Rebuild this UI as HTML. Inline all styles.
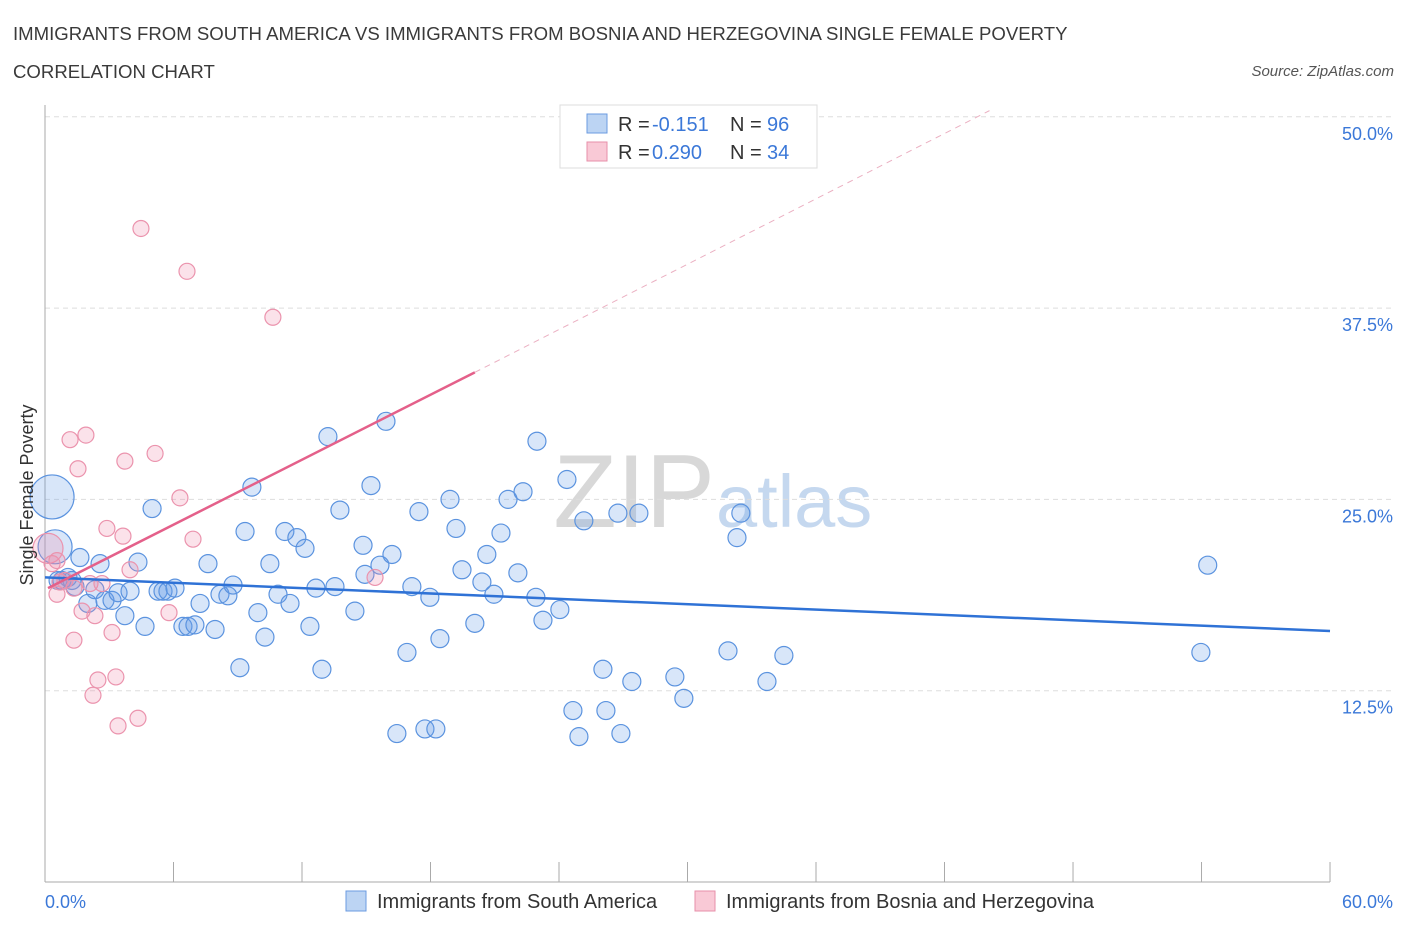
<!DOCTYPE html>
<html><head><meta charset="utf-8"><style>
body{margin:0;background:#fff;font-family:"Liberation Sans",sans-serif;}
svg text{font-family:"Liberation Sans",sans-serif;}
</style></head><body>
<svg id="c" width="1406" height="930">
<text x="13" y="40" font-size="18.6" fill="#3a3a3a">IMMIGRANTS FROM SOUTH AMERICA VS IMMIGRANTS FROM BOSNIA AND HERZEGOVINA SINGLE FEMALE POVERTY</text>
<text x="13" y="78" font-size="18.6" fill="#3a3a3a">CORRELATION CHART</text>
<text x="1394" y="76" font-size="15" fill="#555" font-style="italic" text-anchor="end">Source: ZipAtlas.com</text>
<text x="715" y="527" font-size="104" fill="#d8d8d8" text-anchor="end" font-family="Liberation Serif">ZIP</text>
<text x="716" y="527" font-size="74" fill="#c5d8ef">atlas</text>
<g id="grid"></g><g id="axes"></g><g id="pts"></g><g id="lines"></g>
<text x="33" y="495" font-size="18" fill="#333" transform="rotate(-90 33 495)" text-anchor="middle">Single Female Poverty</text>
<g>
<rect x="560" y="105" width="257" height="63" fill="#fff" stroke="#ddd"/>
<rect x="587" y="114" width="20" height="19" fill="#bcd4f3" stroke="#6b9be0"/>
<rect x="587" y="142" width="20" height="19" fill="#f9c9d6" stroke="#e78fa9"/>
<text y="131" font-size="20" fill="#333"><tspan x="618">R =</tspan><tspan x="652" fill="#3b78d8">-0.151</tspan><tspan x="730">N =</tspan><tspan x="767" fill="#3b78d8">96</tspan></text>
<text y="159" font-size="20" fill="#333"><tspan x="618">R =</tspan><tspan x="652" fill="#3b78d8">0.290</tspan><tspan x="730">N =</tspan><tspan x="767" fill="#3b78d8">34</tspan></text>
</g>
<rect x="346" y="891" width="20" height="20" fill="#bcd4f3" stroke="#6b9be0"/>
<text x="377" y="908" font-size="20" fill="#333">Immigrants from South America</text>
<rect x="695" y="891" width="20" height="20" fill="#f9c9d6" stroke="#e78fa9"/>
<text x="726" y="908" font-size="20" fill="#333">Immigrants from Bosnia and Herzegovina</text>
</svg>
<script>
const blueX=[0.33,0.47,0.61,0.79,1.07,1.26,1.4,1.63,2.0,2.33,2.57,2.8,3.13,3.41,3.73,3.97,4.34,4.67,5.0,5.28,5.51,5.74,6.07,6.44,6.68,7.0,7.24,7.61,7.94,8.17,8.54,8.78,9.1,9.34,9.66,9.94,10.27,10.5,10.88,11.2,11.44,11.76,12.14,12.37,12.65,12.93,13.21,13.54,13.77,14.47,14.85,14.94,15.22,15.64,15.92,16.2,16.43,16.9,17.13,17.46,17.74,17.97,18.25,18.44,18.91,19.19,19.47,20.07,20.4,20.63,20.96,21.29,21.62,22.08,22.32,22.92,22.97,23.25,24.04,24.37,24.65,24.93,25.16,26.05,26.19,26.75,26.89,27.4,27.73,29.41,29.83,31.89,32.31,32.49,33.71,34.5,53.97,54.29];
const blueY=[25.16,21.9,19.7,19.7,19.9,19.7,19.3,21.2,18.2,19.1,20.8,18.4,18.4,18.9,17.4,19.0,20.9,16.7,24.4,19.0,19.0,19.0,19.2,16.7,16.7,16.8,18.2,20.8,16.5,18.8,18.7,19.4,14.0,22.9,25.8,17.6,16.0,20.8,18.8,22.9,18.2,22.5,21.8,16.7,19.2,13.9,29.1,19.3,24.3,17.7,22.0,20.1,25.9,20.7,30.1,21.4,9.7,15.0,19.3,24.2,10.0,18.6,10.0,15.9,25.0,23.1,20.4,16.9,19.6,21.4,18.8,22.8,25.0,20.2,25.5,18.6,28.8,17.1,17.8,26.3,11.2,9.5,23.6,13.9,11.2,24.1,9.7,13.1,24.1,13.4,12.0,15.1,22.5,24.1,13.1,14.8,15.0,20.7];
const blueR=[22,17];
const pinkX=[0.14,0.33,0.56,0.7,0.93,1.17,1.35,1.54,1.73,1.91,2.1,2.33,2.47,2.24,2.66,2.89,3.13,3.31,3.41,4.34,3.64,3.73,3.97,4.48,5.14,5.79,6.3,6.63,6.91,10.64,15.41,1.35,0.56];
const pinkY=[21.8,20.8,18.8,19.6,19.7,28.9,19.2,27.0,17.7,29.2,19.5,17.4,13.2,12.2,19.5,23.1,16.3,13.4,10.2,10.7,22.6,27.5,20.4,42.7,28.0,17.6,25.1,39.9,22.4,36.9,19.9,15.8,21.0];
const pinkR=[15];
const yTicks=[12.5,25,37.5,50];
const yTickLabels=["12.5%","25.0%","37.5%","50.0%"];
const xTicks=[0,6,12,18,24,30,36,42,48,54,60];
const blueLine=[0,19.9,60,16.4];
const pinkLine=[0.14,19.2,20.07,33.3,44.1,50.4];
const X=v=>45+v*21.417, Y=v=>882-v*15.305;
const NS="http://www.w3.org/2000/svg";
function mk(p,t,a){const e=document.createElementNS(NS,t);for(const k in a)e.setAttribute(k,a[k]);document.getElementById(p).appendChild(e);return e;}
yTicks.forEach((t,i)=>{
 const g=mk('grid','line',{x1:45,x2:1395,y1:Y(t),y2:Y(t),stroke:'#ddd','stroke-dasharray':'5,4'});
 
 
 const l=mk('grid','text',{x:1393,y:Y(t)+23,'font-size':18,fill:'#3b78d8','text-anchor':'end'});
 l.textContent=yTickLabels[i];
 
 
});
const ax=mk('axes','line',{x1:45,x2:45,y1:105,y2:882,stroke:'#aaa'});


const bx=mk('axes','line',{x1:45,x2:1330,y1:882,y2:882,stroke:'#aaa'});


xTicks.forEach(t=>{const k=mk('axes','line',{x1:X(t),x2:X(t),y1:862,y2:882,stroke:'#aaa'});
 
 });
const xl0=mk('axes','text',{x:45,y:908,'font-size':18,fill:'#3b78d8'});xl0.textContent=xTicks[0].toFixed(1)+'%';


const xl1=mk('axes','text',{x:1393,y:908,'font-size':18,fill:'#3b78d8','text-anchor':'end'});xl1.textContent=xTicks[xTicks.length-1].toFixed(1)+'%';


blueX.forEach((v,i)=>{const c=mk('pts','circle',{cx:X(v),cy:Y(blueY[i]),r:blueR[i]||9,fill:'rgba(100,155,230,0.25)',stroke:'#5b93df','stroke-width':1.2});
 
 });
pinkX.forEach((v,i)=>{const c=mk('pts','circle',{cx:X(v),cy:Y(pinkY[i]),r:pinkR[i]||8,fill:'rgba(240,140,170,0.25)',stroke:'#eb93ad','stroke-width':1.2});
 
 });
const bl=mk('lines','line',{x1:X(blueLine[0]),y1:Y(blueLine[1]),x2:X(blueLine[2]),y2:Y(blueLine[3]),stroke:'#2f72d6','stroke-width':2.5});


const pl=mk('lines','line',{x1:X(pinkLine[0]),y1:Y(pinkLine[1]),x2:X(pinkLine[2]),y2:Y(pinkLine[3]),stroke:'#e4608a','stroke-width':2.5});


const pd=mk('lines','line',{x1:X(pinkLine[2]),y1:Y(pinkLine[3]),x2:X(pinkLine[4]),y2:Y(pinkLine[5]),stroke:'#ebb0c2','stroke-width':1,'stroke-dasharray':'6,5'});


</script>
</body></html>
